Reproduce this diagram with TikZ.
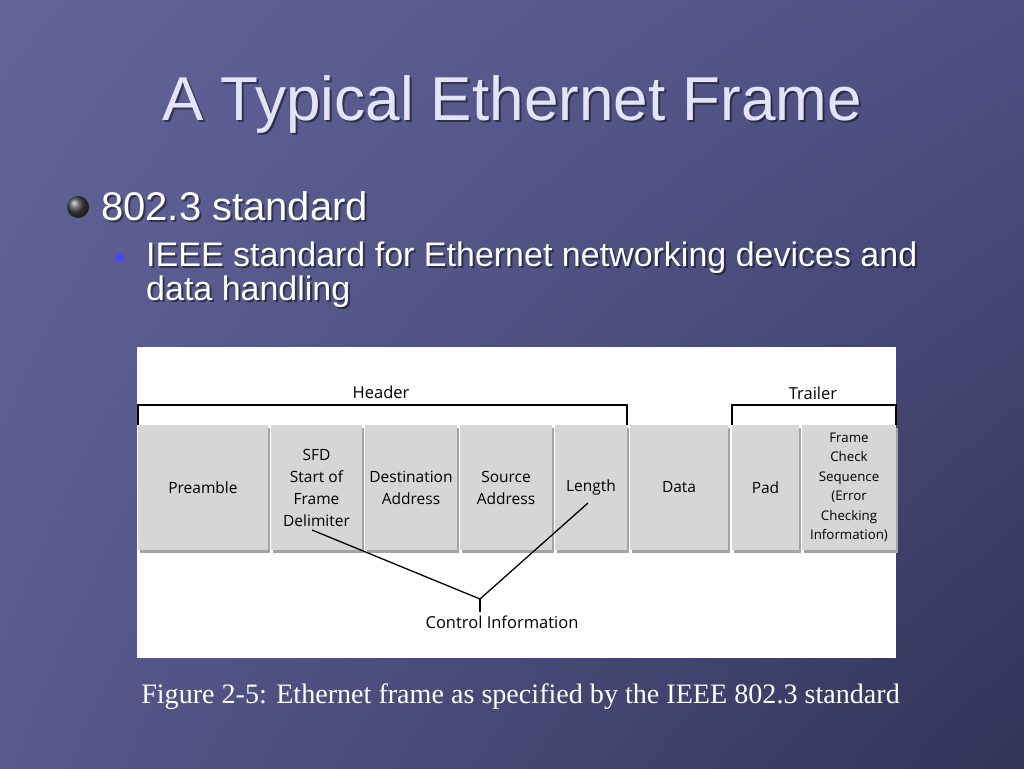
\documentclass[tikz,border=0pt]{standalone}
\usepackage{fontspec}
\setmainfont{Liberation Sans}
\newfontfamily\figfont{Open Sans}
\newfontfamily\capfont{Liberation Serif}
\usetikzlibrary{positioning,shadows,shadings,calc}

\definecolor{bgul}{HTML}{62649A}
\definecolor{bgur}{HTML}{4E5082}
\definecolor{bgll}{HTML}{58598C}
\definecolor{bglr}{HTML}{323358}
\definecolor{titlecol}{HTML}{E4E4F8}
\definecolor{fieldgray}{HTML}{D6D6D6}
\definecolor{fieldshade}{HTML}{A4A4A4}
\definecolor{bulletblue}{HTML}{4848FF}

\begin{document}
\begin{tikzpicture}[x=1pt, y=-1pt,
  slide/.style={inner sep=0pt},
  txtshadow/.style={slide, text=black, opacity=0.45},
  field/.style={fill=fieldgray, minimum height=125pt, inner sep=0pt, outer sep=0pt, align=center,
    font=\figfont\fontsize{15.5}{22}\selectfont,
    drop shadow={shadow xshift=2pt, shadow yshift=-3pt, fill=fieldshade, opacity=1}},
  bracket/.style={draw, line width=1.6pt},
  figlabel/.style={font=\figfont\fontsize{16.5}{19}\selectfont}
]
  \useasboundingbox (0,0) rectangle (1024,768);
  \shade[upper left=bgul, upper right=bgur, lower left=bgll, lower right=bglr]
    (0,0) rectangle (1024,768);

  % title
  \node[txtshadow, anchor=base, font=\fontsize{62}{70}\selectfont] at (514,122) {A Typical Ethernet Frame};
  \node[slide, text=titlecol, anchor=base, font=\fontsize{62}{70}\selectfont] (title) at (512,120) {A Typical Ethernet Frame};

  % bullets
  \shade[ball color=gray!55!black] (78,207) circle (11);
  \node[txtshadow, anchor=base west, font=\fontsize{40}{46}\selectfont] at (103,222) {802.3 standard};
  \node[slide, text=white, anchor=base west, font=\fontsize{40}{46}\selectfont] (lvlone) at (101,220) {802.3 standard};
  \fill[bulletblue] (116,254) rectangle (124,262);
  \node[txtshadow, anchor=base west, font=\fontsize{34}{40}\selectfont] at (148,268) {IEEE standard for Ethernet networking devices and};
  \node[slide, text=white, anchor=base west, font=\fontsize{34}{40}\selectfont] (lvltwo) at (146,266) {IEEE standard for Ethernet networking devices and};
  \node[txtshadow, anchor=base west, font=\fontsize{34}{40}\selectfont] at (148,302) {data handling};
  \node[slide, text=white, anchor=base west, font=\fontsize{34}{40}\selectfont] (lvltwob) at (146,300) {data handling};

  % figure
  \fill[white] (137,347) rectangle (896,658);

  \node[field, minimum width=130pt, anchor=north west] (pre) at (138,425) {Preamble};
  \node[field, minimum width=91pt, right=3pt of pre] (sfd) {SFD\\Start of\\Frame\\Delimiter};
  \node[field, minimum width=92pt, right=3pt of sfd] (dst) {Destination\\Address};
  \node[field, minimum width=92pt, right=3pt of dst] (src) {Source\\Address};
  \node[field, minimum width=72pt, right=3pt of src] (len) {Length};
  \node[field, minimum width=98pt, right=3pt of len] (dat) {Data};
  \node[field, minimum width=67pt, right=4pt of dat] (pad) {Pad};
  \node[field, minimum width=94pt, right=3pt of pad, font=\figfont\fontsize{13.3}{19.5}\selectfont] (fcs)
    {Frame\\Check\\Sequence\\(Error\\Checking\\Information)};

  \draw[bracket] (pre.north west) -- ++(0,-20) -| (len.north east);
  \draw[bracket] (pad.north west) -- ++(0,-20) -| (fcs.north east);
  \node[figlabel] (header) at (381,392) {Header};
  \node[figlabel] (trailer) at (813,393) {Trailer};

  \node[figlabel] (ctrl) at (502,622) {Control Information};
  \coordinate (sfdtip) at (312,530);
  \coordinate (lentip) at (588,503);
  \coordinate (fork) at (480,599);
  \draw[line width=1.3pt] (sfdtip) -- (fork) -- (lentip);
  \draw[line width=1.3pt] (fork) -- (fork |- ctrl.north);

  % caption
  \node[slide, text=white, anchor=base, font=\capfont\fontsize{28.1}{32}\selectfont] (caption) at (520.5,703)
    {Figure 2-5: Ethernet frame as specified by the IEEE 802.3 standard};
\end{tikzpicture}
\end{document}
